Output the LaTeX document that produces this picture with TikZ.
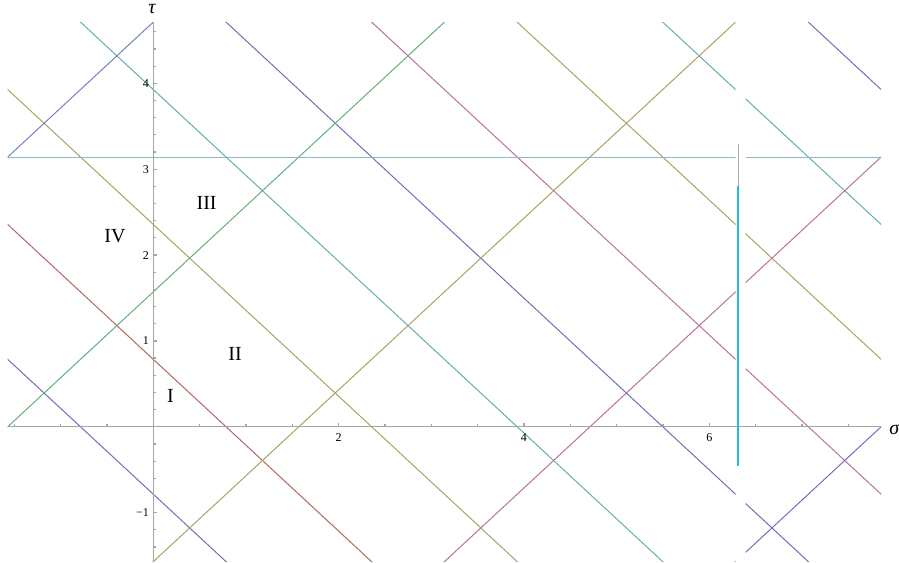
\documentclass[tikz,border=0pt]{standalone}
\usepackage{fontspec}
\setmainfont{Liberation Serif}
\definecolor{plblue}{RGB}{115,110,180}
\definecolor{plsky}{RGB}{115,130,190}
\definecolor{plmauve}{RGB}{185,115,155}
\definecolor{plred}{RGB}{175,105,100}
\definecolor{plolive}{RGB}{170,162,100}
\definecolor{plgreen}{RGB}{100,175,120}
\definecolor{plteal}{RGB}{100,175,170}
\definecolor{plhline}{RGB}{140,185,195}
\definecolor{plcyan}{RGB}{40,185,225}
\definecolor{axisgray}{RGB}{165,165,165}

\begin{document}
\begin{tikzpicture}[x=46.33pt, y=42.93pt,
  wline/.style={line width=0.5pt},
  axisline/.style={line width=0.6pt, axisgray},
  ticklabel/.style={font=\fontsize{6}{7}\selectfont, inner sep=0pt},
  regionlabel/.style={font=\fontsize{10}{12}\selectfont, inner sep=0pt}]
  \useasboundingbox (-1.654,-1.576) rectangle (8.047,4.970);
  % the strip is drawn in two parts, left of 2pi and right of the gap
  \foreach \xa/\xb in {-1.5708/6.2832, 6.3932/7.8540} {
    \begin{scope}
      \clip (\xa,-1.5708) rectangle (\xb,4.7124);
      \foreach \c/\col in {-1/plblue, 1/plred, 3/plolive, 5/plteal, 7/plblue,
                           9/plmauve, 11/plolive, 13/plteal, 15/plblue}
        \draw[wline, \col] (-2, {\c*pi/4+2}) -- (9, {\c*pi/4-9});
      \foreach \c/\col in {3/plsky, 1/plgreen, -1/plolive, -3/plmauve, -5/plblue}
        \draw[wline, \col] (-2, {\c*pi/2-2}) -- (9, {\c*pi/2+9});
      \draw[wline, plhline] (\xa, pi) -- (\xb, pi);
    \end{scope}
  }
  % axes
  \draw[axisline] (-pi/2,0) -- (5*pi/2,0);
  \draw[axisline] (0,-pi/2) -- (0,3*pi/2);
  \foreach \s in {-1.5,-1,-0.5,0.5,1,1.5,2.5,3,3.5,4.5,5,5.5,6.5,7,7.5}
    \draw[axisline] (\s,0) -- ++(0,1.2pt);
  \foreach \s in {2,4,6} {
    \draw[axisline] (\s,0) -- ++(0,2pt);
    \node[ticklabel, anchor=north] (sig\s) at ([yshift=-3pt]\s,0) {\s};
  }
  \foreach \t in {-1.4,-1.2,-0.8,-0.6,-0.4,-0.2,0.2,0.4,0.6,0.8,1.2,1.4,1.6,1.8,
                  2.2,2.4,2.6,2.8,3.2,3.4,3.6,3.8,4.2,4.4,4.6}
    \draw[axisline] (0,\t) -- ++(1.2pt,0);
  \foreach \t/\lab in {-1/−1, 1/1, 2/2, 3/3, 4/4} {
    \draw[axisline] (0,\t) -- ++(2pt,0);
    \node[ticklabel, anchor=east] (tau\t) at ([xshift=-2pt]0,\t) {\lab};
  }
  \node[regionlabel] (taulabel) at (-0.011,4.86) {\textit{τ}};
  \node[regionlabel] (siglabel) at (8.0,-0.027) {\textit{σ}};
  % the cut at 2pi
  \draw[line width=0.6pt, axisgray] (6.313,3.293) -- (6.313,2.8);
  \draw[line width=1pt, plcyan] (6.313,2.8) -- (6.313,-0.458);
  % regions
  \node[regionlabel] (regI) at (0.186,0.363) {I};
  \node[regionlabel] (regII) at (0.882,0.853) {II};
  \node[regionlabel] (regIII) at (0.576,2.609) {III};
  \node[regionlabel] (regIV) at (-0.413,2.221) {IV};
\end{tikzpicture}
\end{document}
